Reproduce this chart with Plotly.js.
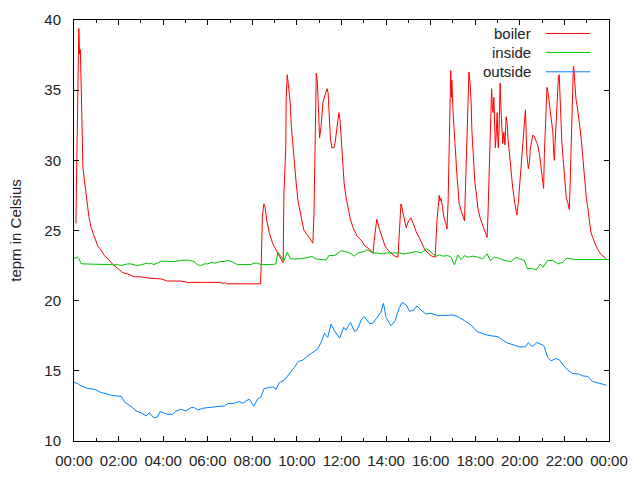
<!DOCTYPE html>
<html>
<head>
<meta charset="utf-8">
<script src="https://cdn.plot.ly/plotly-3.0.1.min.js"></script>
<style>
  body { margin: 0; background: #fff; }
  #plot { width: 640px; height: 480px; }
</style>
</head>
<body>
<div id="plot"></div>
<script>
// readings of one day, HH:MM
var boilerTimes = ["00:05","00:07","00:09","00:11","00:13","00:15","00:17","00:20","00:22","00:24",
  "00:27","00:31","00:35","00:40","00:46","00:55","01:04","01:13","01:22","01:31",
  "01:44","01:58","02:11","02:25","02:42","03:00","03:23","03:54","04:12","04:48",
  "05:06","05:42","06:36","06:40","06:45","06:54","07:30","07:57","08:14","08:22",
  "08:24","08:27","08:31","08:34","08:39","08:46","08:55","09:04","09:13","09:17",
  "09:23","09:25","09:30","09:31","09:34","09:36","09:39","09:42","09:45","09:50",
  "09:53","09:58","10:03","10:11","10:19","10:33","10:43","10:46","10:48","10:51",
  "10:52","10:55","10:57","10:59","11:01","11:05","11:08","11:10","11:14","11:18",
  "11:21","11:24","11:27","11:30","11:34","11:40","11:43","11:48","11:51","11:53",
  "11:56","11:59","12:01","12:04","12:07","12:12","12:17","12:23","12:31","12:42",
  "12:53","13:03","13:14","13:25","13:28","13:33","13:35","13:41","13:49","13:57",
  "14:05","14:13","14:21","14:32","14:35","14:40","14:43","14:48","14:54","14:59",
  "15:07","15:13","15:21","15:29","15:37","15:45","15:53","16:01","16:12","16:17",
  "16:23","16:25","16:28","16:31","16:36","16:41","16:44","16:47","16:49","16:52",
  "16:54","16:56","16:57","17:00","17:03","17:05","17:08","17:11","17:14","17:16",
  "17:22","17:27","17:31","17:33","17:35","17:38","17:41","17:43","17:46","17:49",
  "17:51","17:54","17:57","17:59","18:04","18:07","18:13","18:18","18:26","18:32",
  "18:34","18:37","18:40","18:43","18:44","18:46","18:48","18:50","18:52","18:54",
  "18:56","18:59","19:01","19:02","19:04","19:07","19:10","19:14","19:17","19:20",
  "19:23","19:26","19:28","19:32","19:37","19:41","19:46","19:50","19:52","19:56",
  "19:59","20:03","20:08","20:12","20:15","20:17","20:19","20:23","20:26","20:28",
  "20:32","20:35","20:39","20:44","20:48","20:53","20:57","21:02","21:04","21:06",
  "21:09","21:11","21:13","21:15","21:18","21:20","21:24","21:29","21:31","21:33",
  "21:35","21:37","21:40","21:42","21:44","21:46","21:48","21:51","21:53","21:56",
  "22:00","22:02","22:05","22:09","22:13","22:15","22:18","22:20","22:22","22:24",
  "22:25","22:27","22:29","22:31","22:34","22:38","22:41","22:45","22:49","22:52",
  "22:56","22:59","23:03","23:07","23:11","23:16","23:20","23:25","23:29","23:34",
  "23:38","23:43","23:47","23:52"];
var boilerTemps = [25.5,29.5,33.6,37.4,39.4,37.6,37.9,34.5,31.4,29.5,
  28.8,27.9,26.9,26.0,25.2,24.5,23.9,23.6,23.2,23.0,
  22.6,22.3,22.0,21.9,21.7,21.7,21.6,21.55,21.4,21.4,
  21.3,21.3,21.3,21.2,21.3,21.2,21.2,21.15,21.15,21.2,
  22.6,26.0,26.9,26.7,25.7,24.8,24.05,23.6,23.1,22.9,
  22.7,27.6,30.9,34.3,36.1,35.6,34.9,34.1,32.4,30.7,
  29.5,28.4,27.1,25.9,25.0,24.5,24.1,26.2,30.1,34.3,
  36.2,35.6,34.3,32.1,31.6,32.4,33.4,34.1,34.5,34.9,
  35.1,34.8,33.1,31.6,30.9,30.9,31.3,32.4,33.0,33.4,
  32.9,31.6,30.2,29.3,28.4,27.4,26.6,25.9,25.2,24.6,
  24.3,23.9,23.7,23.4,24.3,25.7,25.8,25.2,24.5,23.9,
  23.6,23.4,23.2,23.1,25.0,26.9,26.6,25.9,25.2,25.6,
  25.9,25.5,24.9,24.5,24.0,23.6,23.4,23.2,23.1,25.7,
  27.5,27.1,27.3,26.6,25.9,25.5,25.1,27.1,30.7,34.5,
  36.4,34.5,35.7,33.6,32.3,30.7,29.5,28.8,27.9,27.0,
  26.4,25.9,25.7,27.4,29.5,32.1,34.8,36.3,35.5,34.1,
  32.1,30.5,29.3,28.4,27.4,26.6,25.9,25.5,25.0,24.5,
  25.9,28.6,31.2,33.8,35.1,33.8,33.4,34.5,31.4,30.9,
  31.6,33.4,31.4,30.9,32.1,35.5,33.2,31.2,32.0,31.1,
  33.1,32.7,31.6,30.4,29.2,28.0,27.0,26.4,26.1,27.0,
  28.0,29.2,31.1,32.7,33.6,32.0,30.4,29.4,29.9,30.8,
  31.6,31.8,31.7,31.4,31.1,30.4,29.4,28.5,28.0,30.4,
  32.5,33.9,35.2,35.0,34.4,33.9,33.0,32.0,30.6,30.0,
  31.3,32.5,34.2,35.5,36.0,36.1,35.1,32.7,31.3,30.4,
  28.9,28.0,27.3,27.0,26.5,28.0,31.3,33.9,35.5,36.6,
  36.7,35.8,35.1,34.4,33.9,33.2,32.5,31.6,30.4,29.2,
  28.0,27.3,26.6,25.6,24.9,24.5,24.2,23.9,23.7,23.5,
  23.3,23.2,23.1,23.0];

var insideTimes = ["00:00","00:09","00:14","00:18","00:22","00:58","01:25","01:30","01:39","01:48",
  "01:57","02:06","02:15","02:24","02:33","02:42","02:50","02:59","03:08","03:17",
  "03:21","03:26","03:35","03:44","03:53","04:02","04:11","04:29","04:47","05:05",
  "05:23","05:32","05:41","05:50","05:59","06:08","06:12","06:17","06:26","06:35",
  "06:44","06:53","07:02","07:11","07:20","07:56","08:05","08:14","08:23","08:54",
  "09:03","09:09","09:16","09:25","09:34","09:43","10:10","10:28","10:41","10:50",
  "11:13","11:19","11:26","11:40","11:49","11:58","12:08","12:17","12:26","12:35",
  "12:44","12:52","13:01","13:10","13:19","13:24","13:37","13:51","14:04","14:22",
  "14:36","14:49","15:07","15:21","15:34","15:48","15:57","16:06","16:15","16:24",
  "16:33","16:46","16:55","17:04","17:13","17:22","17:31","17:40","17:53","18:07",
  "18:20","18:32","18:41","18:52","19:05","19:18","19:36","19:50","19:59","20:12",
  "20:21","20:30","20:44","20:55","21:02","21:15","21:29","21:42","21:56","22:05",
  "22:18","22:27","22:45","23:21","23:34","23:52","24:00"];
var insideTemps = [23.0,23.1,22.98,22.67,22.62,22.62,22.57,22.62,22.57,22.55,
  22.57,22.5,22.57,22.62,22.62,22.55,22.5,22.55,22.62,22.67,
  22.62,22.67,22.57,22.67,22.79,22.81,22.81,22.79,22.86,22.9,
  22.79,22.57,22.5,22.62,22.62,22.67,22.74,22.67,22.74,22.79,
  22.79,22.86,22.81,22.67,22.57,22.57,22.67,22.67,22.57,22.57,
  22.62,23.45,23.21,22.86,23.45,22.98,22.98,23.1,23.15,22.98,
  22.9,22.9,23.21,23.21,23.33,23.57,23.5,23.45,23.33,23.17,
  23.4,23.45,23.5,23.64,23.5,23.4,23.4,23.33,23.4,23.4,
  23.4,23.33,23.4,23.5,23.4,23.69,23.57,23.33,23.17,23.26,
  23.17,23.21,23.1,22.55,23.26,22.93,23.21,23.1,23.17,23.1,
  22.98,23.33,22.86,23.1,23.02,22.86,22.79,23.1,22.98,22.86,
  22.26,22.31,22.19,22.62,22.38,22.86,22.86,22.62,22.74,23.02,
  22.98,22.93,22.93,22.93,22.98,22.93,22.93];

var outsideTimes = ["00:00","00:10","00:19","00:28","00:37","00:55","01:04","01:13","01:26","01:40",
  "01:53","02:07","02:15","02:29","02:38","02:47","03:01","03:14","03:23","03:34",
  "03:45","03:52","04:03","04:12","04:26","04:35","04:48","05:01","05:15","05:24",
  "05:33","05:46","06:00","06:27","06:45","06:54","07:12","07:25","07:34","07:43",
  "07:52","08:04","08:14","08:23","08:32","08:46","08:55","09:04","09:13","09:26",
  "09:40","09:53","10:04","10:16","10:29","10:43","10:56","11:05","11:14","11:23",
  "11:32","11:41","11:50","11:55","12:06","12:12","12:24","12:35","12:42","12:53",
  "13:02","13:15","13:24","13:37","13:46","13:53","14:00","14:13","14:24","14:36",
  "14:43","14:54","15:03","15:14","15:23","15:34","15:47","16:01","16:19","16:59",
  "17:13","17:31","17:49","18:04","18:16","18:29","18:43","19:01","19:14","19:27",
  "19:45","19:59","20:15","20:23","20:33","20:46","21:02","21:06","21:15","21:24",
  "21:37","21:46","21:55","22:09","22:22","22:40","22:49","23:03","23:16","23:29",
  "23:43","23:53"];
var outsideTemps = [14.17,14.1,13.93,13.81,13.74,13.69,13.57,13.45,13.38,13.26,
  13.21,13.19,12.81,12.57,12.38,12.14,12.0,11.79,12.02,11.67,
  11.71,12.1,11.98,11.9,11.9,12.14,12.26,12.14,12.38,12.38,
  12.21,12.33,12.38,12.43,12.5,12.67,12.69,12.81,12.69,12.86,
  12.98,12.48,12.98,13.14,13.74,13.81,13.86,13.69,14.17,14.33,
  14.76,15.24,15.67,15.76,16.07,16.31,16.55,17.02,17.67,17.38,
  18.33,17.86,17.5,17.33,18.1,17.9,18.45,17.81,17.9,18.62,
  18.86,18.38,18.38,18.81,19.17,19.81,18.81,18.21,18.57,19.52,
  19.88,19.71,19.24,19.33,19.62,19.33,19.05,19.1,18.93,18.98,
  18.86,18.57,18.26,17.81,17.69,17.57,17.5,17.43,17.19,16.98,
  16.83,16.71,16.71,17.02,16.71,17.02,16.83,16.71,15.95,15.71,
  15.88,15.79,15.48,15.05,14.81,14.76,14.64,14.6,14.24,14.17,
  14.05,13.98];

var seriesNames = ["boiler", "inside", "outside"];
var seriesColors = ["#ff0000", "#00c000", "#0080ff"];

function toDate(t) {
    if (t === "24:00") return "2013-01-02 00:00";
    return "2013-01-01 " + t;
}

var allTimes = [boilerTimes, insideTimes, outsideTimes];
var allTemps = [boilerTemps, insideTemps, outsideTemps];

var data = [];
for (let i = 0; i < seriesNames.length; i++) {
    data.push({
        x: allTimes[i].map(toDate),
        y: allTemps[i],
        mode: "lines",
        name: seriesNames[i],
        line: {color: seriesColors[i], width: 1},
        hoverinfo: "skip"
    });
}

// gnuplot style key: text right aligned, sample line on its right
var legendRows = [0.968, 0.923, 0.877];
var annotations = [];
var shapes = [];
for (let i = 0; i < seriesNames.length; i++) {
    annotations.push({
        xref: "paper", yref: "paper",
        x: 0.858, y: legendRows[i],
        xanchor: "right", yanchor: "middle",
        text: seriesNames[i], showarrow: false,
        font: {size: 15, color: "#222"}
    });
    shapes.push({
        type: "line", xref: "paper", yref: "paper",
        x0: 0.882, x1: 0.965, y0: legendRows[i], y1: legendRows[i],
        line: {color: seriesColors[i], width: 1}
    });
}

var layout = {
    width: 640,
    height: 480,
    margin: {l: 74, r: 31, t: 20, b: 39},
    paper_bgcolor: "#fff",
    plot_bgcolor: "#fff",
    font: {family: "Liberation Sans, Arial, sans-serif", size: 15, color: "#222"},
    showlegend: false,
    xaxis: {
        type: "date",
        range: ["2013-01-01 00:00", "2013-01-02 00:00"],
        tick0: "2013-01-01 00:00",
        dtick: 7200000,
        tickformat: "%H:%M",
        ticks: "inside",
        ticklen: 5,
        tickcolor: "#000",
        ticklabelstandoff: 6,
        minor: {dtick: 3600000, ticks: "inside", ticklen: 3, tickcolor: "#000", showgrid: false},
        showline: true,
        linecolor: "#000",
        linewidth: 1,
        mirror: "ticks",
        showgrid: false,
        zeroline: false
    },
    yaxis: {
        range: [10, 40],
        dtick: 5,
        ticks: "inside",
        ticklen: 5,
        tickcolor: "#000",
        ticklabelstandoff: 9,
        showline: true,
        linecolor: "#000",
        linewidth: 1,
        mirror: "ticks",
        showgrid: false,
        zeroline: false,
        title: {text: "tepm in Celsius", standoff: 19, font: {size: 15}}
    },
    annotations: annotations,
    shapes: shapes
};

Plotly.newPlot("plot", data, layout, {displayModeBar: false, staticPlot: true});
</script>
</body>
</html>
